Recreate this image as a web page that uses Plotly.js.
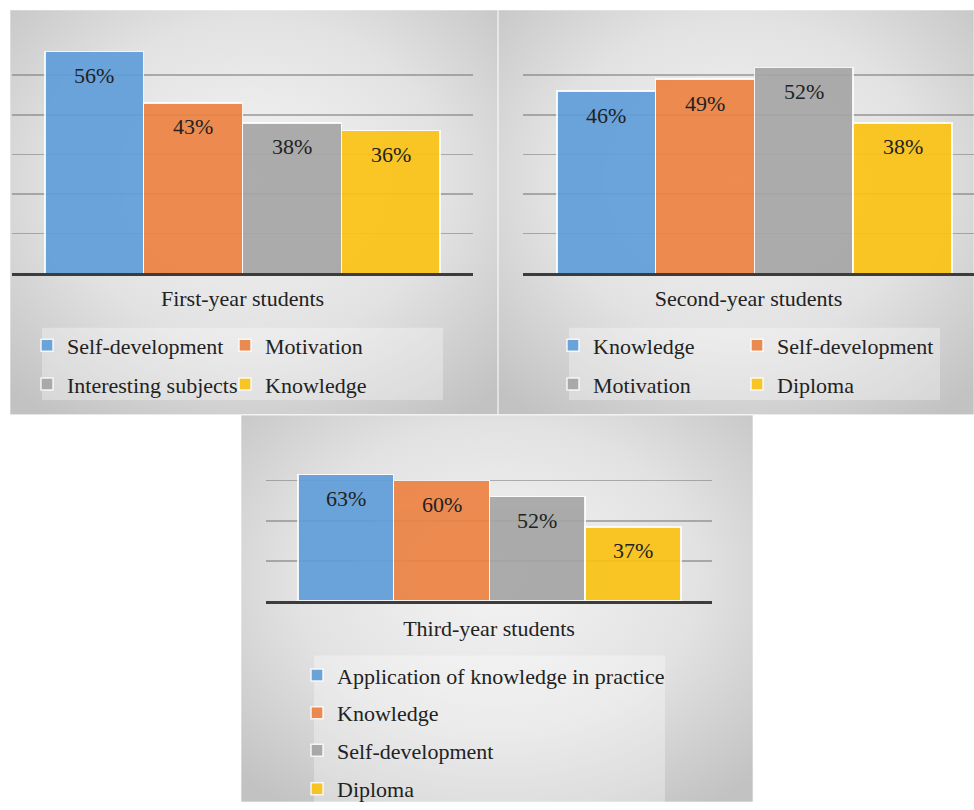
<!DOCTYPE html>
<html>
<head>
<meta charset="utf-8">
<script src="https://cdn.plot.ly/plotly-3.0.1.min.js"></script>
<style>html,body{margin:0;padding:0;background:#fff;}#chart{width:974px;height:810px;}</style>
</head>
<body>
<div id="chart"></div>
<script>
// ---- data ----
const panelTitles = ["First-year students", "Second-year students", "Third-year students"];
const cat1 = ["Self-development", "Motivation", "Interesting subjects", "Knowledge"];
const val1 = [56, 43, 38, 36];
const cat2 = ["Knowledge", "Self-development", "Motivation", "Diploma"];
const val2 = [46, 49, 52, 38];
const cat3 = ["Application of knowledge in practice", "Knowledge", "Self-development", "Diploma"];
const val3 = [63, 60, 52, 37];
const barColors = ["#609ED9", "#EC8243", "#A5A5A5", "#FAC314"];

// ---- layout helpers (pixels -> paper) ----
const W = 974, H = 810;
const px = v => v / W;
const py = v => 1 - v / H;
const FONT = "Liberation Serif, Times New Roman, serif";
const TXT = "#222222";

const panels = [
  {cats: cat1, vals: val1, xa: "x", ya: "y", xd: [12, 473], yd: [276, 36], xr: [-0.834, 3.834], yr: [0, 60], dt: 10, so: 16,
   leg: [[67, 349], [265, 349], [67, 388], [265, 388]], box: [42, 331, 443, 404], bg: [10, 10, 498, 419]},
  {cats: cat2, vals: val2, xa: "x2", ya: "y2", xd: [523, 974], yd: [276, 36], xr: [-0.844, 3.723], yr: [0, 60], dt: 10, so: 16,
   leg: [[593, 349], [777, 349], [593, 388], [777, 388]], box: [569, 331, 940, 404], bg: [498, 10, 974, 419]},
  {cats: cat3, vals: val3, xa: "x3", ya: "y3", xd: [266, 712], yd: [607, 445], xr: [-0.834, 3.824], yr: [0, 80], dt: 20, so: 18,
   leg: [[337, 682], [337, 720], [337, 758], [337, 797]], box: [314, 662, 665, 810], bg: [241, 419, 753, 810]}
];

const grad = "data:image/svg+xml;utf8," + encodeURIComponent(
  "<svg xmlns='http://www.w3.org/2000/svg' viewBox='0 0 100 100' preserveAspectRatio='none' width='100' height='100'>" +
  "<defs><radialGradient id='g' cx='50%' cy='42%' r='72%'>" +
  "<stop offset='0' stop-color='#f4f4f4'/><stop offset='0.55' stop-color='#e2e2e2'/><stop offset='1' stop-color='#c2c2c2'/>" +
  "</radialGradient></defs><rect x='0' y='0' width='100' height='100' fill='url(#g)'/></svg>");

const traces = [];
const annotations = [];
const shapes = [];
const images = [];
const layout = {
  width: W, height: H,
  margin: {l: 0, r: 0, t: 0, b: 0},
  paper_bgcolor: "#ffffff",
  plot_bgcolor: "rgba(0,0,0,0)",
  barmode: "stack",
  bargap: 0,
  font: {family: FONT, size: 22, color: TXT},
  showlegend: true
};

let legIdx = 0;
panels.forEach((p, pi) => {
  const sfx = pi === 0 ? "" : String(pi + 1);
  layout["xaxis" + sfx] = {
    domain: [px(p.xd[0]), px(p.xd[1])],
    range: p.xr, type: "category",
    categoryorder: "array", categoryarray: p.cats,
    anchor: p.ya,
    showticklabels: false, ticks: "", showgrid: false, zeroline: false,
    showline: true, linecolor: "#3c3c3c", linewidth: 3,
    fixedrange: true,
    title: {text: panelTitles[pi], font: {family: FONT, size: 22, color: TXT}, standoff: p.so}
  };
  layout["yaxis" + sfx] = {
    domain: [py(p.yd[0]), py(p.yd[1])],
    range: p.yr, dtick: p.dt, anchor: p.xa,
    showticklabels: false, ticks: "", zeroline: false, showline: false,
    showgrid: true, gridcolor: "rgba(120,120,120,0.55)", gridwidth: 1.5,
    fixedrange: true
  };
  images.push({
    source: grad, xref: "paper", yref: "paper",
    x: px(p.bg[0]), y: py(p.bg[1]), sizex: px(p.bg[2] - p.bg[0]), sizey: (p.bg[3] - p.bg[1]) / H,
    xanchor: "left", yanchor: "top", sizing: "stretch", layer: "below"
  });
  shapes.push({
    type: "rect", xref: "paper", yref: "paper", layer: "below",
    x0: px(p.bg[0]), x1: px(p.bg[2]), y0: py(p.bg[3]), y1: py(p.bg[1]),
    line: {color: "rgba(255,255,255,0.6)", width: 1}, fillcolor: "rgba(0,0,0,0)"
  });
  shapes.push({
    type: "rect", xref: "paper", yref: "paper", layer: "below",
    x0: px(p.box[0]), x1: px(p.box[2]), y0: py(p.box[3]), y1: py(p.box[1]),
    line: {width: 0}, fillcolor: "rgba(255,255,255,0.32)"
  });
  p.cats.forEach((c, i) => {
    legIdx += 1;
    const legName = legIdx === 1 ? "legend" : "legend" + legIdx;
    traces.push({
      type: "bar", name: c, x: [c], y: [p.vals[i]],
      xaxis: p.xa, yaxis: p.ya, opacity: 0.92,
      marker: {color: barColors[i], line: {color: "rgba(255,255,255,0.9)", width: 1.5}},
      legend: legName, hoverinfo: "skip"
    });
    layout[legName] = {
      x: px(p.leg[i][0] - 40), y: py(p.leg[i][1]), xanchor: "left", yanchor: "middle",
      bgcolor: "rgba(0,0,0,0)", borderwidth: 0,
      font: {family: FONT, size: 22, color: TXT}, itemclick: false, itemdoubleclick: false
    };
    annotations.push({
      x: c, y: p.vals[i], xref: p.xa, yref: p.ya, yshift: -24,
      text: p.vals[i] + "%", showarrow: false,
      font: {family: FONT, size: 22, color: TXT}
    });
  });
});
layout.annotations = annotations;
layout.shapes = shapes;
layout.images = images;

Plotly.newPlot("chart", traces, layout, {displayModeBar: false, staticPlot: true});
</script>
</body>
</html>
